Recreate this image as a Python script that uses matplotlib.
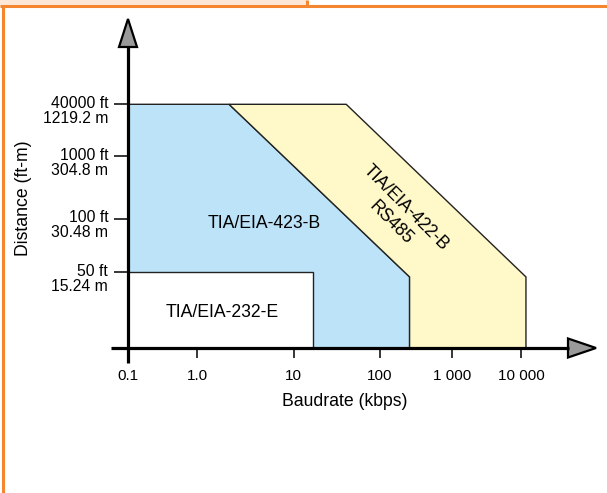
import numpy as np
import matplotlib.pyplot as plt
from matplotlib.patches import Polygon
from matplotlib.ticker import FixedLocator, NullLocator
from matplotlib.transforms import ScaledTranslation

plt.rcParams['font.family'] = ['Liberation Sans', 'DejaVu Sans']

# axis ticks: baudrate (kbps) and distance (m)
baud_ticks = [0.1, 1.0, 10, 100, 1000, 10000]
baud_labels = ['0.1', '1.0', '10', '100', '1 000', '10 000']
dist_ticks = [15.24, 30.48, 304.8, 1219.2]
dist_labels = ['50 ft\n15.24 m', '100 ft\n30.48 m', '1000 ft\n304.8 m', '40000 ft\n1219.2 m']

# operating areas of each standard (baudrate kbps, distance m)
rs232_baud = [0.1, 0.1, 17, 17]
rs232_dist = [1, 15.24, 15.24, 1]
rs423_baud = [0.1, 0.1, 2.15, 260, 260]
rs423_dist = [1, 1219.2, 1219.2, 12.9, 1]
rs422_baud = [2.15, 41, 11800, 11800, 260, 260]
rs422_dist = [1219.2, 1219.2, 12.9, 1, 1, 12.9]

BLUE = '#bde3f8'
YELLOW = '#fff8c9'
ORANGE = '#f4862f'

# the drawing is not a true log axis: decades get uneven widths
x_log = [-2, -1, 0, 1, 2, 3, 4, 5, 6]
x_pos = [-69, 0, 69, 165.5, 251.5, 324, 393, 462, 531]
y_log = list(np.log10([0.01, 0.1, 1] + dist_ticks + [1e4, 1e5]))
y_pos = [-151.4, -75.7, 0, 75.7, 129.3, 191.7, 243.7, 322.7, 409]


def fwd_x(v):
    return np.interp(np.log10(np.clip(v, 1e-12, None)), x_log, x_pos)


def inv_x(p):
    return 10 ** np.interp(p, x_pos, x_log)


def fwd_y(v):
    return np.interp(np.log10(np.clip(v, 1e-12, None)), y_log, y_pos)


def inv_y(p):
    return 10 ** np.interp(p, y_pos, y_log)


W, H = 607, 493
fig = plt.figure(figsize=(W / 100, H / 100), dpi=100)

ax = fig.add_axes([128 / W, 145 / H, 469 / W, 329 / H])
ax.patch.set_alpha(0)
ax.set_xscale('function', functions=(fwd_x, inv_x))
ax.set_yscale('function', functions=(fwd_y, inv_y))
ax.set_xlim(0.1, inv_x(469))
ax.set_ylim(1, inv_y(329))
for s in ax.spines.values():
    s.set_visible(False)

ax.fill(rs423_baud, rs423_dist, facecolor=BLUE, edgecolor='#222', lw=1)
ax.fill(rs422_baud, rs422_dist, facecolor=YELLOW, edgecolor='#222', lw=1)
ax.fill(rs232_baud, rs232_dist, facecolor='white', edgecolor='#222', lw=1)

ax.xaxis.set_major_locator(FixedLocator(baud_ticks))
ax.xaxis.set_minor_locator(NullLocator())
ax.set_xticklabels(baud_labels, fontsize=11)
ax.tick_params(axis='x', direction='out', length=7.2, width=1.1, pad=8)

ax.yaxis.set_major_locator(FixedLocator(dist_ticks))
ax.yaxis.set_minor_locator(NullLocator())
ax.set_yticklabels(dist_labels, fontsize=11.3, linespacing=1.0)
ax.tick_params(axis='y', direction='out', length=10, width=1.1, pad=4.3)
shift = ScaledTranslation(0, -0.05, fig.dpi_scale_trans)
for lbl in ax.get_yticklabels():
    lbl.set_multialignment('right')
    lbl.set_transform(lbl.get_transform() + shift)

ax.text(0.2, 0.107, 'TIA/EIA-232-E', transform=ax.transAxes,
        ha='center', va='center', fontsize=12.7)
ax.text(0.291, 0.378, 'TIA/EIA-423-B', transform=ax.transAxes,
        ha='center', va='center', fontsize=12.7)
ax.text(0.576, 0.404, 'TIA/EIA-422-B\nRS485', transform=ax.transAxes,
        ha='center', va='center', fontsize=12.7, rotation=-45,
        rotation_mode='anchor', linespacing=1.3)

fig.text(345 / W, 1 - 402 / H, 'Baudrate (kbps)', ha='center', va='center', fontsize=12.7)
fig.text(24 / W, 1 - 198 / H, 'Distance (ft-m)', ha='center', va='center',
         fontsize=12.7, rotation=90)

# overlay in pixel space for the frame and the axis arrows
ov = fig.add_axes([0, 0, 1, 1], zorder=5)
ov.set_xlim(0, W)
ov.set_ylim(H, 0)
ov.axis('off')
ov.patch.set_alpha(0)

ov.add_patch(Polygon([(0, 0), (307, 0), (307, 6), (0, 6)], closed=True,
                     facecolor='#fde8d8', edgecolor='none'))
ov.plot([307, 307], [0, 6], color=ORANGE, lw=2.2, solid_capstyle='butt')
ov.plot([0, W], [6, 6], color=ORANGE, lw=2.2, solid_capstyle='butt')
ov.plot([3, 3], [6, H], color=ORANGE, lw=2.2, solid_capstyle='butt')

ov.plot([111, 569], [348, 348], color='black', lw=2.3, solid_capstyle='butt')
ov.plot([128, 128], [363, 46], color='black', lw=2.3, solid_capstyle='butt')
ov.add_patch(Polygon([(568, 338.5), (596, 348), (568, 357.5)], closed=True,
                     facecolor='#9a9a9a', edgecolor='black', lw=1.6, joinstyle='miter'))
ov.add_patch(Polygon([(119, 47), (128, 19), (137, 47)], closed=True,
                     facecolor='#9a9a9a', edgecolor='black', lw=1.6, joinstyle='miter'))

fig.savefig('out.png', dpi=100)
